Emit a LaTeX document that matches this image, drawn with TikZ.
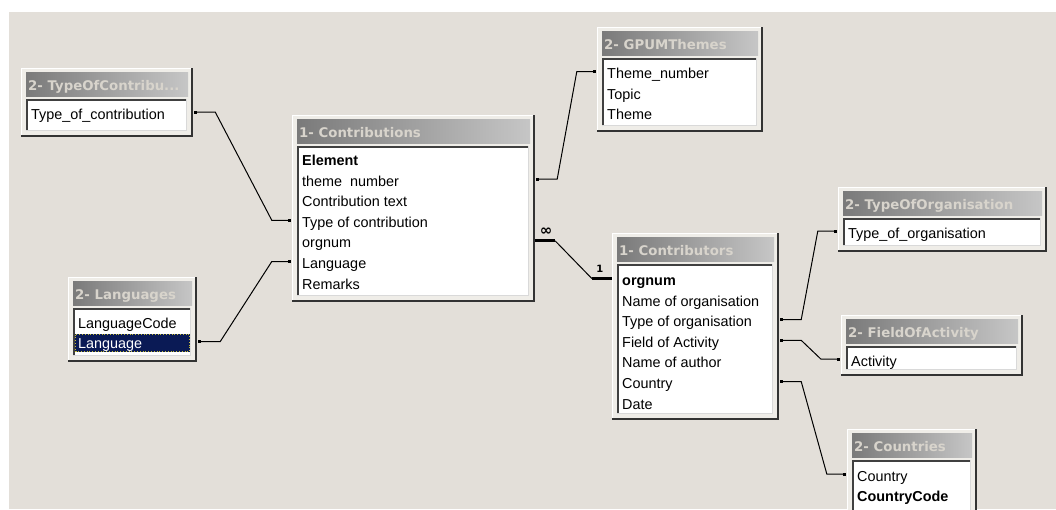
\documentclass[tikz,border=0pt]{standalone}
\usepackage{fontspec}
\setmainfont{Liberation Sans}
\newfontfamily\ttlfont{DejaVu Sans}
\usetikzlibrary{fit,calc,arrows.meta}
\definecolor{bgc}{HTML}{E3DFD9}
\definecolor{facec}{HTML}{EFEDE8}
\definecolor{tgl}{HTML}{7A7A7A}
\definecolor{tgr}{HTML}{C6C6C6}
\definecolor{ttlc}{HTML}{D8D4CC}
\definecolor{selc}{HTML}{0A1A55}
\tikzset{
  boxframe/.style={inner sep=0pt, fill=facec, draw=none},
  ttltext/.style={font=\ttlfont\bfseries\fontsize{13.3}{15}\selectfont, text=ttlc, inner sep=0pt},
  rowtext/.style={font=\fontsize{14.4}{16}\selectfont, inner sep=0pt},
  cardtext/.style={font=\ttlfont\bfseries\fontsize{10}{12}\selectfont, inner sep=0pt},
  conn/.style={line width=1pt, black, {Square[length=3pt,width=3pt]}-{Square[length=3pt,width=3pt]}},
  thin conn/.style={line width=1pt, black},
  thick bar/.style={line width=3pt, black},
}
\newcommand\dbbox[9]{%
  \node[boxframe, fit={(#2,#3) (#4,#5)}] (#1) {};
  \draw[white, line width=1pt] (#2+0.5,#5-2) -- (#2+0.5,#3+0.5) -- (#4-2,#3+0.5);
  \draw[black!80, line width=2pt] (#2,#5-1) -- (#4-1,#5-1) -- (#4-1,#3);
  \shade[left color=tgl, right color=tgr] (#2+5,#3+4) rectangle (#4-5,#3+28);
  \node[ttltext, anchor=base west] (#1-t) at (#2+7,#3+22) {#6};
  \fill[white] (#2+5,#3+31) rectangle (#4-6,#5-6);
  #9
  \draw[black!75, line width=2pt] (#2+6,#5-6) -- (#2+6,#3+32) -- (#4-6,#3+32);
  \draw[black!15, line width=1pt] (#2+5,#5-6.5) -- (#4-6.5,#5-6.5) -- (#4-6.5,#3+31);
  \foreach \rt [count=\i] in {#8}
    \node[rowtext, anchor=base west] (#1-\i) at (#2+10,{#7+(\i-1)*20.6}) {\rt};
}
\begin{document}
\begin{tikzpicture}[x=1pt,y=-1pt]
\clip (0,0) rectangle (1056,509);
\fill[white] (0,0) rectangle (1056,509);
\fill[bgc] (9,12) rectangle (1056,509);

\dbbox{toc}{21}{68}{193}{137}{2- TypeOfContribu...}{119}{Type\_of\_contribution}{}
\dbbox{con}{292}{115}{535}{302}{1- Contributions}{165.5}{\textbf{Element},theme\ \ number,Contribution text,Type of contribution,orgnum,Language,Remarks}{}
\dbbox{lan}{68}{277}{197}{362}{2- Languages}{328}{LanguageCode,\textcolor{white}{Language}}{%
  \fill[selc] (75,334) rectangle (190,352);
  \draw[yellow!75!black, dotted, line width=0.8pt] (75.5,334.5) rectangle (189.5,351.5);}
\dbbox{gpum}{597}{27}{763}{132}{2- GPUMThemes}{78.5}{Theme\_number,Topic,Theme}{}
\dbbox{ctr}{612}{233}{779}{420}{1- Contributors}{285.5}{\textbf{orgnum},Name of organisation,Type of organisation,Field of Activity,Name of author,Country,Date}{}
\dbbox{too}{838}{187}{1047}{252}{2- TypeOfOrganisation}{238}{Type\_of\_organisation}{}
\dbbox{foa}{841}{315}{1023}{376}{2- FieldOfActivity}{366}{Activity}{}
\dbbox{cou}{847}{429}{977}{530}{2- Countries}{481}{Country,\textbf{CountryCode}}{}

% connectors
\draw[conn] ($(toc.east |- toc-1.base)+(1,-7)$) -- ++(21,0)
  -- ($(con.west |- con-4.base)+(-20,-7)$) -- ($(con.west |- con-4.base)+(-1,-7)$);
\draw[conn] ($(lan.east |- lan-2.base)+(1,-7)$) -- ++(22,0)
  -- ($(con.west |- con-6.base)+(-20,-7)$) -- ($(con.west |- con-6.base)+(-1,-7)$);
\draw[conn] ($(con.east |- con-2.base)+(1,-7)$) -- ++(21,0)
  -- ($(gpum.west |- gpum-1.base)+(-20,-7)$) -- ($(gpum.west |- gpum-1.base)+(-1,-7)$);
\draw[conn] ($(ctr.east |- ctr-3.base)+(1,-7)$) -- ++(21,0)
  -- ($(too.west |- too-1.base)+(-20,-7)$) -- ($(too.west |- too-1.base)+(-1,-7)$);
\draw[conn] ($(ctr.east |- ctr-4.base)+(1,-7)$) -- ++(21,0)
  -- ($(foa.west |- foa-1.base)+(-20,-7)$) -- ($(foa.west |- foa-1.base)+(-1,-7)$);
\draw[conn] ($(ctr.east |- ctr-6.base)+(1,-7)$) -- ++(21,0)
  -- ($(cou.west |- cou-1.base)+(-20,-7)$) -- ($(cou.west |- cou-1.base)+(-1,-7)$);

% one-to-many relationship
\draw[thick bar] ($(con.east |- con-5.base)+(0,-7)$) coordinate (oa) -- ++(20,0) coordinate (ob);
\draw[thin conn] (ob) -- ($(ctr.west |- ctr-1.base)+(-20,-7)$) coordinate (oc);
\draw[thick bar] (oc) -- ($(ctr.west |- ctr-1.base)+(0,-7)$) coordinate (od);
\node[cardtext, font=\ttlfont\bfseries\fontsize{15}{15}\selectfont] (inf) at ($(oa)+(11,-9)$) {∞};
\node[cardtext] (one) at ($(oc)+(8,-10)$) {1};
\end{tikzpicture}
\end{document}
